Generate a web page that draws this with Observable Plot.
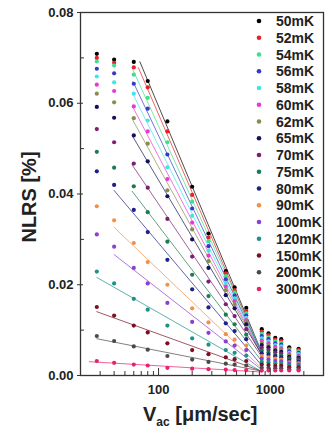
<!DOCTYPE html>
<html>
<head>
<meta charset="utf-8">
<script src="https://cdn.jsdelivr.net/npm/d3@7"></script>
<script src="https://cdn.jsdelivr.net/npm/@observablehq/plot@0.6"></script>
<style>
  html, body { margin: 0; padding: 0; background: #fff; }
  #chart { width: 332px; height: 436px; position: relative; }
  svg text { font-family: "Liberation Sans", Arial, sans-serif; font-weight: bold; }
</style>
</head>
<body>
<div id="chart"></div>
<script>
// ---- data ----
const temps = ["50mK","52mK","54mK","56mK","58mK","60mK","62mK","65mK","70mK","75mK","80mK","90mK","100mK","120mK","150mK","200mK","300mK"];
const colors = ["#000000","#e8202a","#3ee08a","#3838c8","#40e6e6","#e63ad6","#8c8c50","#12125a","#7a2070","#1e7a50","#20208a","#f0904a","#8a40d0","#20908a","#7a1020","#4a4a4a","#e8206e"];
const vSweep = [28, 40, 60, 80, 120, 200, 280, 400, 480, 610];
const vHigh = [840, 965, 1110, 1255, 1480, 1795];
const s50  = [.0709,.0696,.0691,.0649,.0560,.0416,.0313,.0230,.0194,.0149, .0102,.0093,.0083,.0080,.0062,.0059];
const s52  = [.0700,.0689,.0679,.0635,.0538,.0398,.0304,.0225,.0188,.0142, .0097,.0089,.0079,.0076,.0059,.0056];
const s54  = [.0692,.0683,.0663,.0612,.0514,.0383,.0296,.0219,.0183,.0137, .0092,.0084,.0075,.0072,.0056,.0053];
const s56  = [.0676,.0666,.0643,.0588,.0487,.0368,.0285,.0212,.0176,.0132, .0087,.0080,.0071,.0068,.0053,.0050];
const s58  = [.0659,.0646,.0621,.0562,.0459,.0352,.0275,.0204,.0170,.0127, .0082,.0075,.0067,.0064,.0050,.0047];
const s60  = [.0641,.0627,.0593,.0538,.0433,.0337,.0264,.0196,.0164,.0122, .0077,.0071,.0063,.0060,.0047,.0044];
const s62  = [.0621,.0602,.0567,.0511,.0408,.0322,.0252,.0188,.0157,.0118, .0072,.0066,.0059,.0056,.0044,.0041];
const s65  = [.0592,.0568,.0529,.0472,.0395,.0300,.0237,.0177,.0148,.0113, .0067,.0062,.0055,.0052,.0041,.0039];
const s70  = [.0543,.0514,.0467,.0414,.0345,.0262,.0207,.0157,.0131,.0102, .0061,.0057,.0051,.0048,.0038,.0036];
const s75  = [.0493,.0458,.0417,.0360,.0295,.0222,.0175,.0134,.0113,.0090, .0055,.0051,.0046,.0044,.0035,.0033];
const s80  = [.0450,.0420,.0365,.0316,.0255,.0190,.0150,.0115,.0098,.0080, .0049,.0046,.0042,.0040,.0032,.0030];
const s90  = [.0373,.0342,.0292,.0250,.0200,.0148,.0117,.0091,.0079,.0066, .0043,.0040,.0037,.0035,.0029,.0027];
const s100 = [.0311,.0284,.0237,.0203,.0160,.0118,.0094,.0075,.0066,.0056, .0037,.0035,.0032,.0031,.0026,.0024];
const s120 = [.0229,.0203,.0169,.0145,.0110,.0082,.0068,.0056,.0050,.0044, .0030,.0029,.0027,.0026,.0022,.0021];
const s150 = [.0151,.0132,.0110,.0095,.0071,.0056,.0047,.0040,.0036,.0032, .0024,.0023,.0021,.0021,.0018,.0018];
const s200 = [.0087,.0076,.0064,.0057,.0043,.0035,.0030,.0026,.0024,.0022, .0017,.0017,.0016,.0016,.0014,.0014];
const s300 = [.0032,.0028,.0024,.0022,.0017,.0015,.0014,.0013,.0012,.0012, .0011,.0011,.0011,.0011,.0011,.0011];
// linear fit (in log v) range: first sweep point used, and drawn extent of each fit line
const fitFirst = [3,3,2,2,2,2,2,2,2,2,1,1,1,0,0,0,0];
const fitFrom  = [68,66,59,59,59,59,59,59,58,58,40,40,40,28,28,28,24];
const fitTo    = [840,840,840,840,840,840,840,840,840,840,840,840,840,840,840,840,840];
const yMajor = [0, 0.02, 0.04, 0.06, 0.08];
const yMinor = [0.01, 0.03, 0.05, 0.07];
const xMajor = [100, 1000];
const xMinor = [20,30,40,50,60,70,80,90,200,300,400,500,600,700,800,900,2000,3000];

// ---- build tables ----
const series = [s50,s52,s54,s56,s58,s60,s62,s65,s70,s75,s80,s90,s100,s120,s150,s200,s300];
const vAll = vSweep.concat(vHigh);
const pts = [];
series.forEach((s, i) => s.forEach((y, j) => pts.push({t: temps[i], v: vAll[j], y})));
const fits = [];
series.forEach((s, i) => {
  const xs = [], ys = [];
  for (let j = fitFirst[i]; j < vSweep.length; j++) { xs.push(Math.log10(vSweep[j])); ys.push(s[j]); }
  const mx = d3.mean(xs), my = d3.mean(ys);
  const b = d3.sum(xs, (x, k) => (x - mx) * (ys[k] - my)) / d3.sum(xs, x => (x - mx) ** 2);
  const a = my - b * mx;
  [fitFrom[i], fitTo[i]].forEach(v => fits.push({t: temps[i], v, y: a + b * Math.log10(v)}));
});

const chart = Plot.plot({
  width: 332, height: 436,
  marginLeft: 80, marginRight: 9, marginTop: 12, marginBottom: 61,
  x: {type: "log", domain: [20, 3000], label: null},
  y: {domain: [0, 0.08], label: null},
  color: {domain: temps, range: colors},
  style: {fontFamily: "Liberation Sans, Arial, sans-serif", fontWeight: "bold", color: "#222", background: "#fff"},
  marks: [
    Plot.line(fits, {x: "v", y: "y", z: "t", stroke: "t", strokeWidth: 1, strokeOpacity: 0.7, clip: true}),
    Plot.dot(pts, {x: "v", y: "y", fill: "t", r: 2.1}),
    Plot.frame({stroke: "#333", strokeWidth: 1.3}),
    Plot.axisY({ticks: yMajor, tickSize: 0, tickPadding: 7, tickFormat: d3.format(".2f"), fontSize: 13, label: null}),
    Plot.axisY({ticks: yMajor, tickSize: 6, dx: 3, tickFormat: () => "", stroke: "#333", label: null}),
    Plot.axisY({ticks: yMinor, tickSize: 4, dx: 4, tickFormat: () => "", stroke: "#333", label: null}),
    Plot.axisX({ticks: xMajor, tickSize: 0, tickPadding: 9, tickFormat: d3.format("d"), fontSize: 13, label: null}),
    Plot.axisX({ticks: xMajor, tickSize: 7, dy: -7, tickFormat: () => "", stroke: "#333", label: null}),
    Plot.axisX({ticks: xMinor, tickSize: 4, dy: -4, tickFormat: () => "", stroke: "#333", label: null})
  ]
});
document.getElementById("chart").appendChild(chart);

// ---- axis titles and legend ----
const svg = d3.select(chart);
svg.append("text").attr("transform", "translate(36,197) rotate(-90)")
  .attr("text-anchor", "middle").attr("font-size", 20).attr("fill", "#222").text("NLRS [%]");
const xl = svg.append("text").attr("x", 143).attr("y", 421).attr("text-anchor", "start")
  .attr("font-size", 20).attr("fill", "#222");
xl.append("tspan").text("V");
xl.append("tspan").attr("font-size", 12).attr("dy", 5).text("ac");
xl.append("tspan").attr("dy", -5).text(" [\u03bcm/sec]");

const lg = svg.append("g").attr("text-anchor", "start");
temps.forEach((t, i) => {
  const yy = 21 + i * 16.75;
  lg.append("circle").attr("cx", 259).attr("cy", yy).attr("r", 2.3).attr("fill", colors[i]);
  lg.append("text").attr("x", 276).attr("y", yy + 5).attr("font-size", 14).attr("fill", "#222").text(t);
});
</script>
</body>
</html>
